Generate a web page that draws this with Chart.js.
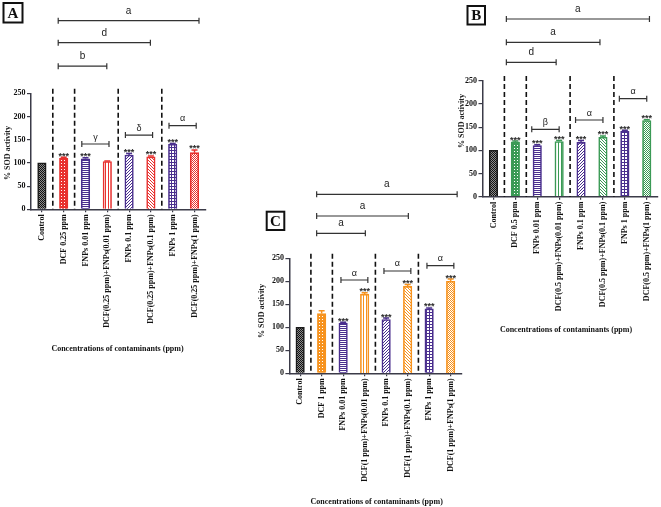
<!DOCTYPE html>
<html><head><meta charset="utf-8">
<script src="https://cdn.jsdelivr.net/npm/chart.js@4/dist/chart.umd.min.js"></script>
<style>
html,body{margin:0;padding:0;background:#fff;}
#wrap{position:relative;width:661px;height:507px;overflow:hidden;background:#fff;}
#wrap canvas{position:absolute;left:0;top:0;}
</style></head><body>
<div id="wrap">
<canvas id="cA" width="661" height="507"></canvas>
<canvas id="cB" width="661" height="507"></canvas>
<canvas id="cC" width="661" height="507"></canvas>
</div>
<script>
// ---------- DATA ----------
const yTicks = [0, 50, 100, 150, 200, 250];

const labelsA = ['Control','DCF 0.25 ppm','FNPs 0.01 ppm','DCF(0.25 ppm)+FNPs(0.01 ppm)','FNPs 0.1 ppm','DCF(0.25 ppm)+FNPs(0.1 ppm)','FNPs 1 ppm','DCF(0.25 ppm)+FNPs(1 ppm)'];
const valuesA = [100, 110, 109, 103, 117, 113, 140, 122];
const errorsA = [0, 2, 2, 1, 3, 2, 2, 6];
const starsA  = ['', '***', '***', '', '***', '***', '***', '***'];
const bracketsA = [[1, 7, 'a'], [1, 5, 'd'], [1, 3, 'b']];
const pairsA    = [[2, 3, 'γ'], [4, 5, 'δ'], [6, 7, 'α']];

const labelsB = ['Control','DCF 0.5 ppm','FNPs 0.01 ppm','DCF(0.5 ppm)+FNPs(0.01 ppm)','FNPs 0.1 ppm','DCF(0.5 ppm)+FNPs(0.1 ppm)','FNPs 1 ppm','DCF(0.5 ppm)+FNPs(1 ppm)'];
const valuesB = [100, 118, 110, 119, 117, 128, 141, 164];
const errorsB = [0, 2, 2, 2, 4, 3, 2, 2];
const starsB  = ['', '***', '***', '***', '***', '***', '***', '***'];
const bracketsB = [[1, 7, 'a'], [1, 5, 'a'], [1, 3, 'd']];
const pairsB    = [[2, 3, 'β'], [4, 5, 'α'], [6, 7, 'α']];

const labelsC = ['Control','DCF 1 ppm','FNPs 0.01 ppm','DCF(1 ppm)+FNPs(0.01 ppm)','FNPs 0.1 ppm','DCF(1 ppm)+FNPs(0.1 ppm)','FNPs 1 ppm','DCF(1 ppm)+FNPs(1 ppm)'];
const valuesC = [100, 130, 109, 172, 117, 189, 140, 200];
const errorsC = [0, 6, 2, 3, 3, 4, 2, 5];
const starsC  = ['', '', '***', '***', '***', '***', '***', '***'];
const bracketsC = [[1, 7, 'a'], [1, 5, 'a'], [1, 3, 'a']];
const pairsC    = [[2, 3, 'α'], [4, 5, 'α'], [6, 7, 'α']];

const yTitle = '% SOD activity';
const xTitle = 'Concentrations of contaminants (ppm)';

// ---------- STYLE / LAYOUT ----------
const PURPLE = '#4a2f8e', RED = '#e8312f', GREEN = '#3a9a55', ORANGE = '#f7931e', BLACK = '#1a1a1a';
const axisColor = '#3b3b48';
const kinds = ['check','dots','hlines','vlines','diag','diag2','grid','fine'];
const SERIF = '"Liberation Serif", "Times New Roman", serif';
const SANS = '"Liberation Sans", Arial, sans-serif';

function tile(w, h, draw){ const c=document.createElement('canvas'); c.width=w; c.height=h; draw(c.getContext('2d')); return c; }
function makePattern(ctx, kind, color){
  let t;
  switch(kind){
    case 'check': t=tile(2,2,g=>{g.fillStyle='#8c8c8c';g.fillRect(0,0,2,2);g.fillStyle='#111';g.fillRect(0,0,1,1);g.fillRect(1,1,1,1);}); break;
    case 'dots': t=tile(3,3,g=>{g.fillStyle=color;g.fillRect(0,0,3,3);g.fillStyle='#fff';g.fillRect(1,1,1,1);}); break;
    case 'hlines': t=tile(2,2,g=>{g.fillStyle='#fff';g.fillRect(0,0,2,2);g.fillStyle=color;g.fillRect(0,0,2,1);}); break;
    case 'vlines': t=tile(3,3,g=>{g.fillStyle='#fff';g.fillRect(0,0,3,3);g.fillStyle=color;g.fillRect(0,0,1,3);}); break;
    case 'diag': t=tile(3,3,g=>{g.fillStyle='#fff';g.fillRect(0,0,3,3);g.fillStyle=color;g.fillRect(2,0,1,1);g.fillRect(1,1,1,1);g.fillRect(0,2,1,1);}); break;
    case 'diag2': t=tile(3,3,g=>{g.fillStyle='#fff';g.fillRect(0,0,3,3);g.fillStyle=color;g.fillRect(0,0,1,1);g.fillRect(1,1,1,1);g.fillRect(2,2,1,1);}); break;
    case 'grid': t=tile(3,3,g=>{g.fillStyle='#fff';g.fillRect(0,0,3,3);g.fillStyle=color;g.fillRect(0,0,3,1);g.fillRect(0,0,1,3);}); break;
    default: t=tile(2,2,g=>{g.fillStyle='#fff';g.fillRect(0,0,2,2);g.fillStyle=color;g.fillRect(0,0,1,1);g.fillRect(1,1,1,1);});
  }
  return ctx.createPattern(t,'repeat');
}

const panels = [
  {id:'cA', name:'A', labels:labelsA, values:valuesA, errors:errorsA, stars:starsA, brackets:bracketsA, pairs:pairsA,
   colors:[BLACK,RED,PURPLE,RED,PURPLE,RED,PURPLE,RED],
   area:{left:31, right:205.4, top:93.3, bottom:209.3}, xH:140,
   bracketLevels:[406.5, 359, 308.4], pairLevels:[140.7, 160, 180.2],
   bigOff:{start:-5.5, endLast:4.5, end:-0.5}, pairOff:{start:-3.7, end:1.7},
   box:{x:3.5, y:3, w:19, h:19.5}, yTitlePos:{x:7.5, y:153}, xTitlePos:{x:117.5, y:349}},
  {id:'cB', name:'B', labels:labelsB, values:valuesB, errors:errorsB, stars:starsB, brackets:bracketsB, pairs:pairsB,
   colors:[BLACK,GREEN,PURPLE,GREEN,PURPLE,GREEN,PURPLE,GREEN],
   area:{left:482.5, right:657.7, top:80.7, bottom:196.7}, xH:140,
   bracketLevels:[383, 332.8, 289.7], pairLevels:[145.3, 165.3, 211.2],
   bigOff:{start:-9, endLast:2.7, end:-3}, pairOff:{start:-5.5, end:0},
   box:{x:467.5, y:6, w:17.5, h:18.5}, yTitlePos:{x:461.7, y:121}, xTitlePos:{x:566, y:330}},
  {id:'cC', name:'C', labels:labelsC, values:valuesC, errors:errorsC, stars:starsC, brackets:bracketsC, pairs:pairsC,
   colors:[BLACK,ORANGE,PURPLE,ORANGE,PURPLE,ORANGE,PURPLE,ORANGE],
   area:{left:289.4, right:461.4, top:258.3, bottom:373.3}, xH:120,
   bracketLevels:[389, 342, 304.3], pairLevels:[202.8, 222.4, 233.9],
   bigOff:{start:-5, endLast:6.5, end:0.7}, pairOff:{start:-2.2, end:3.2},
   box:{x:266.7, y:211.7, w:17.6, h:18.3}, yTitlePos:{x:261.7, y:311}, xTitlePos:{x:376.7, y:501.7}}
];
const separators = [0, 1, 3, 5];
const sepTop = 260;

function overlay(P){
  return {
    id:'ov'+P.name,
    afterDatasetsDraw(chart){
      const c=chart.ctx, xs=chart.scales.x, ys=chart.scales.y;
      const cx=i=>xs.getPixelForValue(i), py=v=>ys.getPixelForValue(v);
      c.save();
      c.strokeStyle='#111'; c.lineWidth=1.6; c.setLineDash([5,3]);
      separators.forEach(i=>{
        const x=(cx(i)+cx(i+1))/2;
        c.beginPath(); c.moveTo(x,py(sepTop)); c.lineTo(x,py(0)); c.stroke();
      });
      c.setLineDash([]);
      P.values.forEach((v,i)=>{
        const e=P.errors[i]; if(!e) return;
        const x=cx(i), t=py(v+e);
        c.strokeStyle=P.colors[i]; c.lineWidth=1.5;
        c.beginPath(); c.moveTo(x,py(v)); c.lineTo(x,t); c.moveTo(x-3,t); c.lineTo(x+3,t); c.stroke();
      });
      c.fillStyle='#2a2a2a'; c.font='bold 9px '+SANS; c.textAlign='center'; c.textBaseline='alphabetic';
      P.stars.forEach((s,i)=>{ if(!s) return; c.fillText(s, cx(i), py(P.values[i]+P.errors[i])+1.5); });
      c.strokeStyle='#333'; c.lineWidth=1.2; c.fillStyle='#222';
      const br=(x1,x2,y,lab,font,gap)=>{
        c.beginPath(); c.moveTo(x1,y); c.lineTo(x2,y);
        c.moveTo(x1,y-3); c.lineTo(x1,y+3); c.moveTo(x2,y-3); c.lineTo(x2,y+3); c.stroke();
        c.font=font; c.fillText(lab,(x1+x2)/2,y-gap);
      };
      P.brackets.forEach((b,k)=>{
        const x1=cx(b[0])+P.bigOff.start;
        const x2=cx(b[1])+(b[1]===P.labels.length-1 && k===0 ? P.bigOff.endLast : P.bigOff.end);
        br(x1,x2,py(P.bracketLevels[k]),b[2],'10px '+SANS,7);
      });
      P.pairs.forEach((b,k)=>{
        br(cx(b[0])+P.pairOff.start, cx(b[1])+P.pairOff.end, py(P.pairLevels[k]), b[2], '9px '+SANS, 4.5);
      });
      c.restore();
    },
    afterDraw(chart){
      const c=chart.ctx;
      c.save();
      c.strokeStyle='#111'; c.lineWidth=2;
      c.strokeRect(P.box.x,P.box.y,P.box.w,P.box.h);
      c.fillStyle='#111'; c.font='bold 15px '+SERIF; c.textAlign='center'; c.textBaseline='middle';
      c.fillText(P.name, P.box.x+P.box.w/2, P.box.y+P.box.h/2+1);
      c.font='bold 8px '+SERIF; c.fillStyle='#222';
      c.translate(P.yTitlePos.x,P.yTitlePos.y); c.rotate(-Math.PI/2);
      c.fillText(yTitle,0,0);
      c.setTransform(1,0,0,1,0,0);
      c.font='bold 8px '+SERIF; c.fillStyle='#111';
      c.fillText(xTitle,P.xTitlePos.x,P.xTitlePos.y);
      c.restore();
    }
  };
}

function build(P){
  const canvas=document.getElementById(P.id);
  const ctx=canvas.getContext('2d');
  const bg=kinds.map((k,i)=>makePattern(ctx,k,P.colors[i]));
  return new Chart(canvas,{
    type:'bar',
    data:{labels:P.labels, datasets:[{data:P.values, backgroundColor:bg, borderColor:P.colors, borderWidth:1.6, barThickness:8.5}]},
    options:{
      responsive:false, maintainAspectRatio:false, animation:false, devicePixelRatio:1, events:[],
      layout:{padding:{left:P.area.left-30, right:661-P.area.right, top:P.area.top, bottom:507-P.area.bottom-P.xH}},
      plugins:{legend:{display:false}, tooltip:{enabled:false}},
      scales:{
        x:{type:'category', offset:true,
          grid:{display:true, drawOnChartArea:false, offset:false, drawTicks:true, tickLength:3, color:axisColor, lineWidth:1.2},
          border:{display:true, color:axisColor, width:1.5},
          ticks:{autoSkip:false, minRotation:90, maxRotation:90, padding:2, color:'#111', font:{family:SERIF, weight:'bold', size:8}},
          afterFit(s){ s.height=P.xH; }},
        y:{type:'linear', min:0, max:250,
          afterBuildTicks(s){ s.ticks=yTicks.map(v=>({value:v})); },
          grid:{display:true, drawOnChartArea:false, drawTicks:true, tickLength:4, color:axisColor, lineWidth:1.2},
          border:{display:true, color:axisColor, width:1.5},
          ticks:{padding:1.5, color:'#111', font:{family:SERIF, weight:'bold', size:8}},
          afterFit(s){ s.width=30; }}
      }
    },
    plugins:[overlay(P)]
  });
}
panels.forEach(build);
</script>
</body></html>
